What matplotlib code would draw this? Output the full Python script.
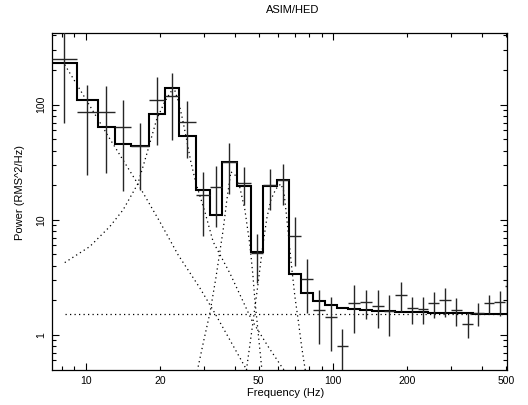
import matplotlib
matplotlib.use("Agg")
import matplotlib.pyplot as plt
import numpy as np
from matplotlib.ticker import FixedLocator, NullFormatter, FixedFormatter

# ---- data ----
bin_edges = [7.3, 9.2, 11.2, 13.1, 15.2, 18.0, 20.9, 23.8, 27.8, 31.8, 35.5, 40.8,
             46.6, 52.3, 59.2, 66.4, 74.0, 82.8, 92.8, 103.5, 115.0, 128.6, 143.9,
             160.2, 178.2, 198.5, 220.0, 242.5, 268.7, 299.0, 333.0, 369.0, 407.0,
             448.5, 497.0, 516.0]

data_power = [250, 86.4, 85.7, 63.7, 44, 110, 119, 70.7, 16.6, 19.1, 31.7, 21,
              5.2, 19.9, 22, 7.3, 3.05, 1.65, 1.43, 0.80, 1.89, 1.93, 1.8, 1.6,
              2.24, 1.70, 1.69, 1.88, 2.0, 1.64, 1.24, 1.55, 1.88, 1.95, 2.67]
data_err = [180, 62, 60, 46, 26, 65.5, 69.5, 36.2, 9.3, 10.4, 14.8, 7.5,
            2.37, 7.7, 8.5, 3.35, 1.5, 0.81, 0.70, 0.32, 0.84, 0.55, 0.64, 0.63,
            0.67, 0.45, 0.45, 0.48, 0.56, 0.44, 0.30, 0.36, 0.35, 0.48, 1.13]

model_power = [230, 109, 64, 45.5, 44, 83.5, 139.7, 53, 18.0, 11.0, 32.1, 19.5,
               5.3, 19.5, 22.3, 3.37, 2.3, 1.98, 1.81, 1.73, 1.67, 1.64, 1.62, 1.60,
               1.59, 1.58, 1.57, 1.56, 1.55, 1.54, 1.54, 1.53, 1.53, 1.52, 1.52]

# model components (dotted)
lor0_f = [8.22, 10.38, 12.51, 16.24, 19.94, 23.64, 28.94, 33.29, 44.02, 47.0]
lor0_p = [222.7, 98.0, 50.6, 20.56, 9.61, 4.96, 2.56, 1.544, 0.530, 0.414]

lor1_f = [8.22, 10.38, 12.51, 14.16, 16.24, 17.61, 19.33, 20.89, 22.09, 22.93, 23.79,
          24.70, 25.64, 26.61, 27.88, 30.33, 32.76, 38.28, 42.69, 46.88, 54.71, 62.0, 66.96]
lor1_p = [4.253, 5.860, 8.744, 12.22, 20.56, 36.75, 74.07, 106.8, 129.7, 132.3, 104.1,
          72.6, 48.6, 31.9, 20.97, 11.73, 6.44, 3.44, 2.085, 1.350, 0.791, 0.530, 0.423]

lor2_f = [27.88, 28.49, 30.05, 31.77, 33.60, 35.96, 37.22, 38.64, 40.49, 42.03, 44.02,
          46.12, 47.43, 48.32, 49.83, 51.43, 52.06]
lor2_p = [0.406, 0.530, 0.905, 1.544, 3.13, 8.19, 14.93, 26.15, 24.13, 18.98, 12.22,
          6.06, 3.32, 2.015, 1.041, 0.530, 0.406]

lor3_f = [44.66, 47.00, 49.70, 52.06, 54.05, 56.10, 58.78, 61.59, 63.34, 64.83, 66.35,
          68.24, 70.18, 72.51, 74.70, 77.03, 78.49]
lor3_p = [0.496, 1.105, 2.72, 6.06, 10.41, 14.93, 18.6, 20.56, 17.52, 11.05, 6.70,
          3.675, 2.14, 1.297, 0.791, 0.516, 0.406]

const_f = [8.22, 506.0]
const_p = [1.52, 1.52]

x_major = [10, 100]
x_minor = [8, 9, 20, 30, 40, 50, 60, 70, 80, 90, 200, 300, 400, 500]
x_labels = {10: "10", 20: "20", 50: "50", 100: "100", 200: "200", 500: "500"}
y_major = [1, 10, 100]
y_labels = ["1", "10", "100"]

# ---- figure ----
plt.rcParams['font.family'] = ['Liberation Sans', 'DejaVu Sans']
fig = plt.figure(figsize=(5.28, 4.05), dpi=100)
ax = fig.add_axes([52/528, 1-370/405, (507-52)/528, (370-33)/405])
ax.set_xscale('log')
ax.set_yscale('log')
ax.set_xlim(7.3, 506)
ax.set_ylim(0.496, 420)

edges = np.array(bin_edges)
centers = np.sqrt(edges[:-1] * edges[1:])
xerr = [centers - edges[:-1], edges[1:] - centers]

dot = (0, (1, 2.6))
for fx, py in [(lor0_f, lor0_p), (lor1_f, lor1_p), (lor2_f, lor2_p),
               (lor3_f, lor3_p), (const_f, const_p)]:
    ax.plot(fx, py, color='black', lw=0.9, linestyle=dot)

ax.stairs(model_power, edges, baseline=None, color='black', lw=1.5, zorder=3)
ax.errorbar(centers, data_power, yerr=data_err, xerr=xerr, fmt='none',
            ecolor='#262626', elinewidth=1.0, capsize=0, zorder=4)

# ticks
ax.xaxis.set_major_locator(FixedLocator(x_major))
ax.xaxis.set_minor_locator(FixedLocator(x_minor))
ax.xaxis.set_major_formatter(FixedFormatter([x_labels[v] for v in x_major]))
ax.xaxis.set_minor_formatter(FixedFormatter([x_labels.get(v, "") for v in x_minor]))
ax.yaxis.set_major_locator(FixedLocator(y_major))
ax.yaxis.set_major_formatter(FixedFormatter(y_labels))
ax.yaxis.set_minor_locator(FixedLocator([2, 3, 4, 5, 6, 7, 8, 9, 20, 30, 40, 50, 60,
                                         70, 80, 90, 200, 300, 400, 0.6, 0.7, 0.8, 0.9]))
ax.yaxis.set_minor_formatter(NullFormatter())
ax.tick_params(which='both', direction='in', top=True, right=True, width=0.8,
               labelsize=7.5, color='black')
ax.tick_params(which='major', length=5)
ax.tick_params(which='minor', length=2.8)
ax.tick_params(axis='x', which='both', pad=4)
ax.tick_params(axis='y', which='both', pad=4)
for lab in ax.get_yticklabels():
    lab.set_rotation(90)
    lab.set_va('center')
for sp in ax.spines.values():
    sp.set_linewidth(0.9)

fig.text(293/528, 1-10/405, "ASIM/HED", ha='center', va='center', fontsize=8)
fig.text(286/528, 1-392.7/405, "Frequency (Hz)", ha='center', va='center', fontsize=8)
fig.text(20/528, 1-193/405, "Power (RMS^2/Hz)", ha='center', va='center',
         rotation=90, fontsize=8)

fig.savefig("out.png", dpi=100)
